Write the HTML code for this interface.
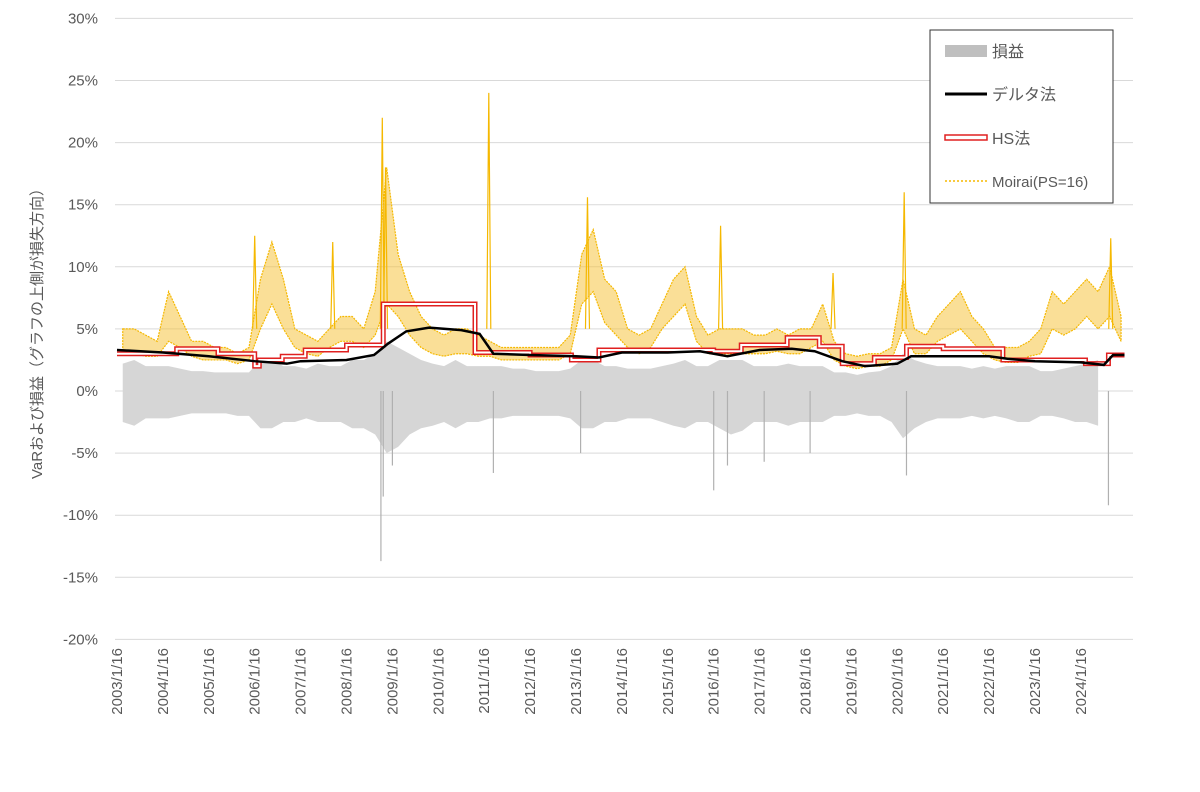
<!DOCTYPE html>
<html><head><meta charset="utf-8">
<style>
body{margin:0;background:#fff;}
svg{display:block;font-family:"Liberation Sans","Noto Sans CJK JP",sans-serif;}
</style></head>
<body>
<svg id="chart" width="1200" height="792" viewBox="0 0 1200 792" xmlns="http://www.w3.org/2000/svg">
<g id="grid"></g>
<g id="series"></g>
<g id="axes"></g>
<text transform="translate(42,330) rotate(-90)" text-anchor="middle" font-size="15" fill="#595959">VaRおよび損益（グラフの上側が損失方向）</text>
<g>
<rect x="930" y="30" width="183" height="173" fill="#fff" stroke="#333" stroke-width="1"/>
<g><rect x="945" y="45" width="42" height="12" fill="#bfbfbf"/><text x="992" y="57" font-size="16" fill="#595959">損益</text></g>
<g><line x1="945" y1="94" x2="987" y2="94" stroke="#000" stroke-width="3"/><text x="992" y="100" font-size="16" fill="#595959">デルタ法</text></g>
<g><rect x="945" y="135" width="42" height="5" fill="none" stroke="#e02020" stroke-width="1.5"/><text x="992" y="144" font-size="16" fill="#595959">HS法</text></g>
<g><line x1="945" y1="181" x2="987" y2="181" stroke="#f5b800" stroke-width="1.5" stroke-dasharray="2,2"/><text x="992" y="187" font-size="15" fill="#595959">Moirai(PS=16)</text></g>
</g>
</svg>
<script>
const yTicks=[30,25,20,15,10,5,0,-5,-10,-15,-20];
const xYears=[2003,2004,2005,2006,2007,2008,2009,2010,2011,2012,2013,2014,2015,2016,2017,2018,2019,2020,2021,2022,2023,2024];
// quarterly values starting 2003Q1
const pnlUp=[2.2,2.5,2,2,2,1.8,1.6,1.6,1.5,1.5,1.5,1.5,2.5,2.5,2,2,1.8,2.2,2,2,2.5,2.5,3,4,3.5,3,2.5,2.2,2,2.5,2,2,2,2,1.8,1.8,1.6,1.6,1.6,1.8,2.5,2.5,2,2,1.8,1.8,1.8,2,2.2,2.5,2,2,2.5,2.5,2.5,2,2,2,2.2,2,2,2,1.5,1.5,1.3,1.5,1.6,2,3,2.5,2.2,2,2,2,1.8,2,1.8,2,2,2,1.6,1.6,1.8,2,2.2,2.5];
const pnlDown=[-2.5,-2.8,-2.2,-2.2,-2.2,-2,-1.8,-1.8,-1.8,-1.8,-2,-2,-3,-3,-2.5,-2.5,-2.2,-2.5,-2.5,-2.5,-3,-3,-3.5,-5,-4.5,-3.5,-3,-2.8,-2.5,-3,-2.5,-2.5,-2.2,-2.2,-2,-2,-2,-2,-2,-2.2,-3,-3,-2.5,-2.5,-2.2,-2.2,-2.2,-2.5,-2.8,-3,-2.5,-2.5,-3,-3.5,-3.2,-2.5,-2.5,-2.5,-2.8,-2.5,-2.5,-2.5,-2,-2,-1.8,-2,-2,-2.5,-3.8,-3,-2.5,-2.2,-2.2,-2.2,-2,-2.2,-2,-2.2,-2.5,-2.5,-2,-2,-2.2,-2.5,-2.5,-2.8];
const pnlSpikeDates=[2008.75,2008.8,2009.0,2011.2,2013.1,2016.0,2016.3,2017.1,2020.2,2024.6,2018.1];
const pnlSpikeValues=[-13.7,-8.5,-6,-6.6,-5,-8,-6,-5.7,-6.8,-9.2,-5];
const moiraiHigh=[5,5,4.5,4,8,6,4,4,3.5,3.5,3,3.5,9,12,9,5,4.5,4,5,6,6,5,8,18,11,8,6,5,4.5,5,5,4.5,4,3.5,3.5,3.5,3.5,3.5,3.5,4.5,11,13,9,8,5,4.5,5,7,9,10,6,4.5,5,5,5,4.5,4.5,5,4.5,5,5,7,4,3,2.8,3,3,3.5,9,5,4.5,6,7,8,6,5,3.5,3.5,3.5,4,5,8,7,8,9,8,10,6];
const moiraiLow=[3,3,2.8,2.8,4,3.5,2.8,2.5,2.5,2.5,2.2,2.5,5,7,5,3.5,3,2.8,3.5,4,4,3.5,4.5,7,6,4.5,3.5,3,2.8,3,3,2.8,2.8,2.5,2.5,2.5,2.5,2.5,2.5,3,7,8,5.5,4.5,3.5,3,3.5,5,6,7,4,3,3,3,3,3,3,3.2,3,3,3.5,4,2.5,2,1.8,2,2,2.5,5,3,3,4,4.5,5,4,3,2.5,2.3,2.3,2.8,3,5,4.5,5,6,5,6,4];
const moiraiSpikeDates=[2008.78,2008.85,2011.1,2013.25,2006.0,2007.7,2020.15,2024.65,2016.15,2018.6];
const moiraiSpikeValues=[22,18,24,15.6,12.5,12,16,12.3,13.3,9.5];
const deltaDates=[2003,2004,2005,2006,2006.7,2007,2008,2008.6,2008.9,2009.3,2009.8,2010.5,2010.9,2011.2,2012,2013,2013.5,2014,2015,2015.7,2016.3,2017,2017.7,2018.2,2018.8,2019.3,2020,2020.3,2021,2022,2022.4,2023,2024,2024.5,2024.7,2024.95];
const deltaValues=[3.3,3.1,2.8,2.4,2.2,2.4,2.5,2.9,3.8,4.8,5.1,4.9,4.6,3.0,2.9,2.8,2.7,3.1,3.1,3.2,2.8,3.3,3.4,3.2,2.4,2.0,2.2,2.8,2.8,2.8,2.6,2.4,2.3,2.1,2.9,2.9];
const hsDates=[2003,2004.3,2005.2,2006.0,2006.1,2006.6,2007.1,2008.0,2008.8,2010.8,2012.0,2012.9,2013.5,2016.0,2016.6,2017.6,2018.3,2018.8,2019.5,2020.2,2021.0,2022.3,2023.5,2024.1,2024.6,2024.95];
const hsValues=[3.0,3.4,3.0,2.0,2.5,2.8,3.3,3.7,7.0,3.1,2.9,2.5,3.3,3.2,3.7,4.3,3.6,2.2,2.7,3.6,3.4,2.5,2.5,2.2,2.9,2.9];

const NS='http://www.w3.org/2000/svg';
const X0=117,PX_PER_YEAR=45.9,Y0=391,PX_PER_PCT=12.42;
const xs=t=>X0+(t-2003)*PX_PER_YEAR;
const ys=v=>Y0-v*PX_PER_PCT;
const qd=i=>2003+i*0.25+0.125;
function mk(tag,attrs,parent){const e=document.createElementNS(NS,tag);for(const k in attrs)e.setAttribute(k,attrs[k]);parent.appendChild(e);return e;}
const grid=document.getElementById('grid'),series=document.getElementById('series'),axes=document.getElementById('axes');

yTicks.forEach(v=>{
  const l=mk('line',{x1:115,x2:1133,y1:ys(v),y2:ys(v),stroke:'#d9d9d9','stroke-width':1},grid);
  
  
  const t=mk('text',{x:98,y:ys(v)+5,'text-anchor':'end','font-size':15,fill:'#595959'},axes);
  t.textContent=v+'%';
  
  
});
xYears.forEach(yr=>{
  const x=xs(yr);
  const t=mk('text',{transform:`translate(${x+5},648) rotate(-90)`,'text-anchor':'end','font-size':15,fill:'#595959'},axes);
  t.textContent=yr+'/1/16';
  
  
});

// P&L band
let pts=pnlUp.map((v,i)=>xs(qd(i))+','+ys(v));
pts=pts.concat(pnlDown.map((v,i)=>[i,v]).reverse().map(([i,v])=>xs(qd(i))+','+ys(v)));
const pnl=mk('polygon',{points:pts.join(' '),fill:'#d6d6d6'},series);


pnlSpikeDates.forEach((d,i)=>{
  const s=mk('line',{x1:xs(d),x2:xs(d),y1:ys(0),y2:ys(pnlSpikeValues[i]),stroke:'#b0b0b0','stroke-width':1.2},series);
  
  
});
// Moirai band
let mp=moiraiHigh.map((v,i)=>xs(qd(i))+','+ys(v));
mp=mp.concat(moiraiLow.map((v,i)=>[i,v]).reverse().map(([i,v])=>xs(qd(i))+','+ys(v)));
const mb=mk('polygon',{points:mp.join(' '),fill:'#f5c030','fill-opacity':0.5,stroke:'#f5b800','stroke-width':1.2,'stroke-dasharray':'2,1'},series);


moiraiSpikeDates.forEach((d,i)=>{
  const s=mk('polyline',{points:`${xs(d)-2},${ys(5)} ${xs(d)},${ys(moiraiSpikeValues[i])} ${xs(d)+2},${ys(5)}`,fill:'none',stroke:'#f5b800','stroke-width':1.2},series);
  
  
});
// HS step line
let hp=[];
hsDates.forEach((d,i)=>{ if(i>0) hp.push(xs(d)+','+ys(hsValues[i-1])); hp.push(xs(d)+','+ys(hsValues[i])); });
const h1=mk('polyline',{points:hp.join(' '),fill:'none',stroke:'#e02020','stroke-width':5},series);


const h2=mk('polyline',{points:hp.join(' '),fill:'none',stroke:'#fff','stroke-width':2},series);


// Delta line
const dl=mk('polyline',{points:deltaDates.map((d,i)=>xs(d)+','+ys(deltaValues[i])).join(' '),fill:'none',stroke:'#000','stroke-width':2.5},series);


</script>
</body></html>
